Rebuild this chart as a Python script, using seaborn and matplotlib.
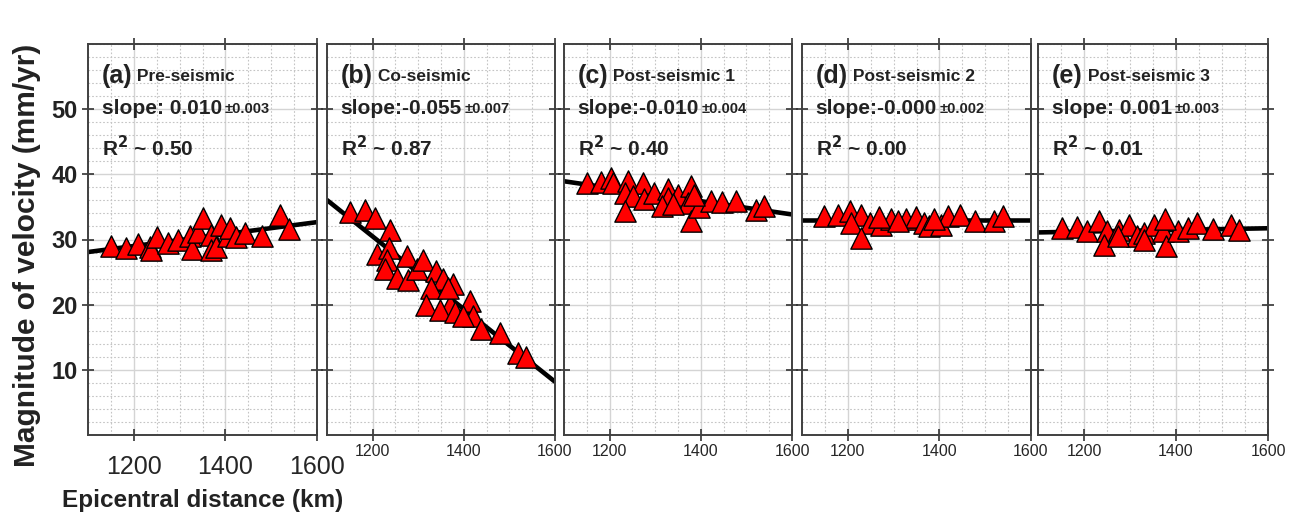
import numpy as np
import pandas as pd
import matplotlib
matplotlib.use("Agg")
import matplotlib.pyplot as plt
from matplotlib.ticker import MultipleLocator
import seaborn as sns

# epicentral distance (km) and velocity magnitude (mm/yr)
dist_pre = [1151, 1184, 1209, 1235, 1238, 1251, 1275, 1297, 1322, 1327, 1340, 1351,
            1369, 1369, 1380, 1391, 1406, 1409, 1424, 1442, 1479, 1519, 1538]
vel_pre = [29.0, 28.7, 29.3, 28.9, 28.4, 30.4, 29.4, 30.0, 30.5, 28.5, 31.2, 33.3,
           30.7, 28.4, 28.8, 32.2, 30.5, 31.8, 30.4, 31.0, 30.5, 33.7, 31.6]

dist_co = [1151, 1184, 1206, 1238, 1209, 1235, 1231, 1227, 1253, 1275, 1278, 1297,
           1311, 1340, 1355, 1377, 1329, 1318, 1369, 1348, 1380, 1413, 1420, 1438,
           1479, 1519, 1537, 1398, 1366]
vel_co = [34.2, 34.5, 33.3, 31.4, 27.8, 28.7, 26.9, 25.4, 24.1, 27.4, 23.8, 25.4,
          26.8, 25.1, 24.0, 23.1, 22.6, 20.0, 20.0, 19.2, 18.8, 20.5, 18.2, 16.2,
          15.7, 12.6, 12.0, 18.2, 22.6]

dist_post1 = [1150, 1182, 1204, 1207, 1240, 1273, 1233, 1251, 1233, 1276, 1298, 1327,
              1327, 1316, 1349, 1378, 1371, 1378, 1396, 1422, 1447, 1477, 1520, 1538,
              1338, 1386]
vel_post1 = [38.7, 38.8, 39.5, 38.6, 39.0, 38.6, 37.2, 36.7, 34.4, 36.2, 37.2, 37.7,
             36.4, 35.1, 36.9, 38.2, 35.6, 32.8, 35.0, 35.9, 35.7, 35.9, 34.6, 35.1,
             35.4, 36.9]

dist_post2 = [1149, 1178, 1204, 1229, 1207, 1249, 1273, 1229, 1295, 1327, 1349, 1367,
              1378, 1404, 1418, 1444, 1477, 1520, 1538, 1309, 1389, 1269]
vel_post2 = [33.6, 33.7, 34.4, 33.7, 32.6, 32.6, 32.3, 30.3, 33.2, 33.1, 33.5, 32.6,
             32.1, 32.3, 33.6, 33.7, 32.8, 32.8, 33.6, 32.8, 33.2, 33.5]

dist_post3 = [1153, 1185, 1207, 1233, 1251, 1244, 1276, 1298, 1316, 1331, 1353, 1371,
              1378, 1404, 1425, 1446, 1480, 1520, 1538, 1331, 1375, 1273]
vel_post3 = [31.8, 31.9, 31.3, 32.8, 31.3, 29.2, 31.5, 32.2, 30.5, 31.0, 32.2, 31.3,
             29.0, 31.3, 31.8, 32.5, 31.6, 32.3, 31.4, 30.0, 33.1, 30.5]

letters = ["a", "b", "c", "d", "e"]
titles = ["Pre-seismic", "Co-seismic", "Post-seismic 1", "Post-seismic 2", "Post-seismic 3"]
slopes = ["slope: 0.010", "slope:-0.055", "slope:-0.010", "slope:-0.000", "slope: 0.001"]
errors = ["±0.003", "±0.007", "±0.004", "±0.002", "±0.003"]
r2 = ["0.50", "0.87", "0.40", "0.00", "0.01"]

xticks = [1200, 1400, 1600]
yticks = [10, 20, 30, 40, 50]

dists = [dist_pre, dist_co, dist_post1, dist_post2, dist_post3]
vels = [vel_pre, vel_co, vel_post1, vel_post2, vel_post3]

sns.set_style("white")
plt.rcParams['font.family'] = ['Liberation Sans', 'DejaVu Sans']

W, H = 1301, 522
fig = plt.figure(figsize=(W / 100, H / 100), dpi=100)

lefts = [88, 327, 564, 802, 1038]
widths = [229, 228, 228, 229, 230]

for i in range(5):
    ax = fig.add_axes([lefts[i] / W, 87 / H, widths[i] / W, 391 / H])
    df = pd.DataFrame({'dist': dists[i], 'vel': vels[i]})
    ax.set_xlim(1100, 1600)
    ax.set_ylim(0, 60)

    sns.regplot(data=df, x='dist', y='vel', scatter=False, ci=None, truncate=False,
                color='black', line_kws={'lw': 3.3, 'zorder': 2}, ax=ax)
    sns.scatterplot(data=df, x='dist', y='vel', marker='^', s=235, color='#ff0000',
                    edgecolor='black', linewidth=1.0, zorder=3, ax=ax)

    ax.set_xlim(1100, 1600)
    ax.set_ylim(0, 60)
    ax.set_xlabel("")
    ax.set_ylabel("")
    ax.set_xticks(xticks)
    ax.set_yticks(yticks)
    ax.xaxis.set_minor_locator(MultipleLocator(50))
    ax.yaxis.set_minor_locator(MultipleLocator(2))
    ax.grid(which='major', color='#d4d4d4', lw=1.0, ls='-')
    ax.grid(which='minor', color='#c4c4c4', lw=0.8, ls=(0, (1.5, 1.8)))
    ax.set_axisbelow(True)
    for sp in ax.spines.values():
        sp.set_color('#404040')
        sp.set_linewidth(1.4)
    ax.tick_params(which='major', direction='inout', length=9, width=1.2,
                   top=True, right=True, bottom=True, left=True, color='#333333')
    ax.tick_params(which='minor', length=0)

    if i == 0:
        ax.tick_params(axis='x', labelsize=18, pad=10)
        ax.tick_params(axis='y', labelsize=17, pad=3)
        for lab in ax.get_yticklabels():
            lab.set_fontweight('bold')
            lab.set_color('#222222')
    else:
        ax.tick_params(axis='x', labelsize=11.5, pad=2)
        ax.tick_params(axis='y', labelleft=False)

    t1 = ax.text(0.06, 0.918, f"({letters[i]})", transform=ax.transAxes,
                 fontsize=18, fontweight='bold', va='center', ha='left', color='#222222')
    ax.annotate(" " + titles[i], xy=(1, 0.5), xycoords=t1, va='center', ha='left',
                fontsize=12.5, fontweight='bold', color='#222222')
    t2 = ax.text(0.06, 0.822, slopes[i], transform=ax.transAxes,
                 fontsize=15, fontweight='bold', va='baseline', ha='left', color='#222222')
    ax.annotate(errors[i], xy=(1, 0), xycoords=t2, xytext=(2, 1.2), textcoords='offset points',
                va='bottom', ha='left', fontsize=10.5, fontweight='bold', color='#222222')
    ax.text(0.06, 0.735, f"R$^\\mathbf{{2}}$ ~ {r2[i]}", transform=ax.transAxes,
            fontsize=15, fontweight='bold', va='center', ha='left', color='#222222')

fig.text(0.021, 0.511, "Magnitude of velocity (mm/yr)", rotation=90, fontsize=21.5,
         fontweight='bold', va='center', ha='center', color='#222222')
fig.text(0.156, 0.042, "Epicentral distance (km)", fontsize=17.5,
         fontweight='bold', va='center', ha='center', color='#222222')

fig.savefig("out.png", dpi=100)
